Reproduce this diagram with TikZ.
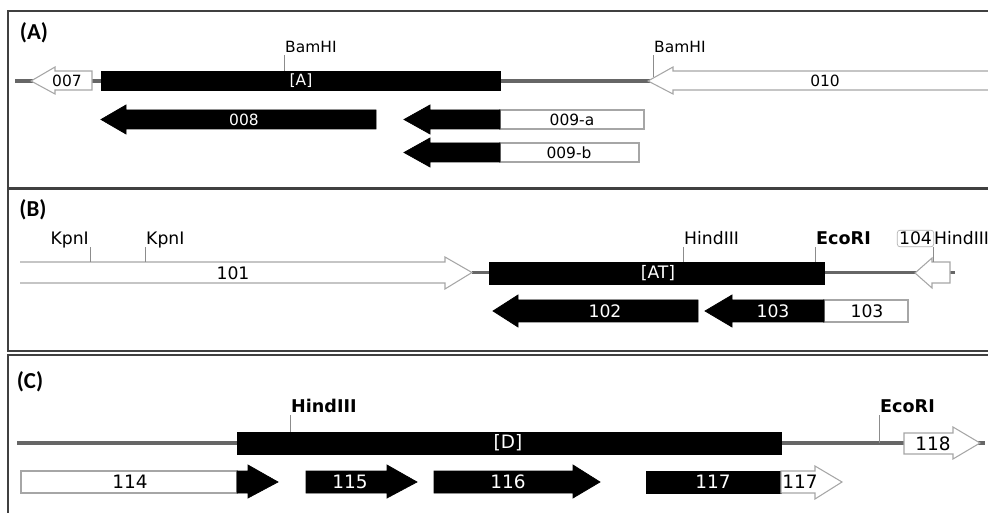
\documentclass[tikz,border=0pt]{standalone}
\usepackage{fontspec}
\setmainfont{DejaVu Sans}
\newfontfamily\panelfont{Carlito}

\begin{document}
\begin{tikzpicture}[x=0.02cm, y=-0.02cm]
    \tikzset{
        panel/.style    =   { draw=black!75
                            , line width=1.3pt
        }
        , bb/.style     =   { draw=black!60
                            , line width=2.2pt
        }
        , wgene/.style  =   { draw=black!35
                            , fill=white
                            , line width=0.6pt
        }
        , bgene/.style  =   { draw=black
                            , fill=black
                            , line width=0.4pt
        }
        , site/.style   =   { draw=black!45
                            , line width=0.5pt
        }
        , lbl/.style    =   { inner sep=0pt
        }
        , wlbl/.style   =   { inner sep=0pt
                            , text=white
        }
        , sitel/.style  =   { anchor=base west
                            , inner sep=0.5pt
        }
        , tag/.style    =   { font=\panelfont\bfseries\fontsize{13}{15}\selectfont
        }
    }
    \useasboundingbox (0,0) rectangle (988,513);

    % (A)
    \begin{scope}[font=\fontsize{8.8}{10}\selectfont]
    \draw[panel] (8,11) rectangle (1000,188);
    \node(A)[tag] at (34,33) {(A)};
    \draw[bb] (15,81) -- (650,81);
    \draw[wgene] (92,71) -- (55,71) -- (55,67) -- (31,81) -- (55,94) -- (55,90) -- (92,90) -- cycle;
    \node(g007)[lbl] at (67,81) {007};
    \draw[bgene] (101,71) rectangle (500,90);
    \node(rA)[wlbl] at (301,81) {[A]};
    \draw[wgene] (1000,71) -- (673,71) -- (673,67) -- (648,81) -- (673,94) -- (673,90) -- (1000,90);
    \node(g010)[lbl] at (825,81) {010};
    \draw[site] (284,71) -- (284,55);
    \node(bam1)[sitel] at (284,53) {BamHI};
    \draw[site] (653,77) -- (653,55);
    \node(bam2)[sitel] at (653,53) {BamHI};
    \draw[bgene] (376,110) -- (126,110) -- (126,105) -- (101,119.5) -- (126,134) -- (126,129) -- (376,129) -- cycle;
    \node(g008)[wlbl] at (244,119.5) {008};
    \draw[wgene] (500,110) rectangle (644,129);
    \draw[bgene] (500,110) -- (430,110) -- (430,105) -- (404,119.5) -- (430,134) -- (430,129) -- (500,129) -- cycle;
    \node(g009a)[lbl] at (572,119.5) {009-a};
    \draw[wgene] (500,143) rectangle (639,162);
    \draw[bgene] (500,143) -- (430,143) -- (430,138) -- (404,152.5) -- (430,167) -- (430,162) -- (500,162) -- cycle;
    \node(g009b)[lbl] at (569,152.5) {009-b};
    \end{scope}

    % (B)
    \begin{scope}[font=\fontsize{9.8}{11}\selectfont]
    \draw[panel] (8,189) rectangle (1000,351);
    \node(B)[tag] at (33,210) {(B)};
    \draw[bb] (472,272.5) -- (955,272.5);
    \path[wgene] (20,262) -- (445,262) -- (445,257) -- (472,272.5) -- (445,289) -- (445,283) -- (20,283);
    \node(g101)[lbl] at (233,273) {101};
    \draw[site] (90,262) -- (90,247);
    \node(kpn1)[sitel, anchor=base east] at (90,245) {KpnI};
    \draw[site] (145,262) -- (145,247);
    \node(kpn2)[sitel] at (145,245) {KpnI};
    \draw[bgene] (489,262) rectangle (824,284);
    \node(rAT)[wlbl] at (658,273) {[AT]};
    \draw[site] (683,262) -- (683,247);
    \node(hind1)[sitel] at (683,245) {HindIII};
    \draw[site] (815,262) -- (815,247);
    \node(eco1)[sitel, font=\bfseries] at (815,245) {EcoRI};
    \draw[wgene] (950,262) -- (932,262) -- (932,258) -- (915,273) -- (932,288) -- (932,283) -- (950,283) -- cycle;
    \node(g104)[lbl, draw=black!30, rounded corners=1.5pt, inner sep=1pt] at (915.5,238.5) {104};
    \draw[site] (933,262) -- (933,247);
    \node(hind2)[sitel] at (933,245) {HindIII};
    \draw[bgene] (698,300) -- (518,300) -- (518,295) -- (493,311) -- (518,327) -- (518,322) -- (698,322) -- cycle;
    \node(g102)[wlbl] at (605,311) {102};
    \draw[wgene] (824,300) rectangle (908,322);
    \draw[bgene] (824,300) -- (732,300) -- (732,295) -- (705,311) -- (732,327) -- (732,322) -- (824,322) -- cycle;
    \node(g103a)[wlbl] at (773,311) {103};
    \node(g103b)[lbl] at (867,311) {103};
    \end{scope}

    % (C)
    \begin{scope}[font=\fontsize{10.5}{12}\selectfont]
    \draw[panel] (8,355) rectangle (1000,530);
    \node(C)[tag] at (30,382) {(C)};
    \draw[bb] (17,443) -- (985,443);
    \draw[bgene] (237,432) rectangle (781,454);
    \node(rD)[wlbl] at (508,443) {[D]};
    \draw[site] (290,432) -- (290,415);
    \node(hind3)[sitel, font=\bfseries] at (290,413) {HindIII};
    \draw[site] (879,443) -- (879,415);
    \node(eco2)[sitel, font=\bfseries] at (879,413) {EcoRI};
    \draw[wgene] (904,433) -- (953,433) -- (953,427) -- (980,443) -- (953,459) -- (953,454) -- (904,454) -- cycle;
    \node(g118)[lbl] at (933,443.5) {118};
    \draw[wgene] (21,471) rectangle (237,493);
    \draw[bgene] (237,471) -- (248,471) -- (248,465) -- (278,482) -- (248,498) -- (248,493) -- (237,493) -- cycle;
    \node(g114)[lbl] at (130,482) {114};
    \draw[bgene] (306,471) -- (387,471) -- (387,465) -- (417,482) -- (387,498) -- (387,493) -- (306,493) -- cycle;
    \node(g115)[wlbl] at (350,482) {115};
    \draw[bgene] (434,471) -- (573,471) -- (573,465) -- (600,482) -- (573,498) -- (573,493) -- (434,493) -- cycle;
    \node(g116)[wlbl] at (508,482) {116};
    \draw[bgene] (646,471) rectangle (781,493);
    \draw[wgene] (781,471) -- (815,471) -- (815,466) -- (842,482) -- (815,499) -- (815,493) -- (781,493) -- cycle;
    \node(g117a)[wlbl] at (713,482) {117};
    \node(g117b)[lbl] at (800,482) {117};
    \end{scope}
\end{tikzpicture}
\end{document}
